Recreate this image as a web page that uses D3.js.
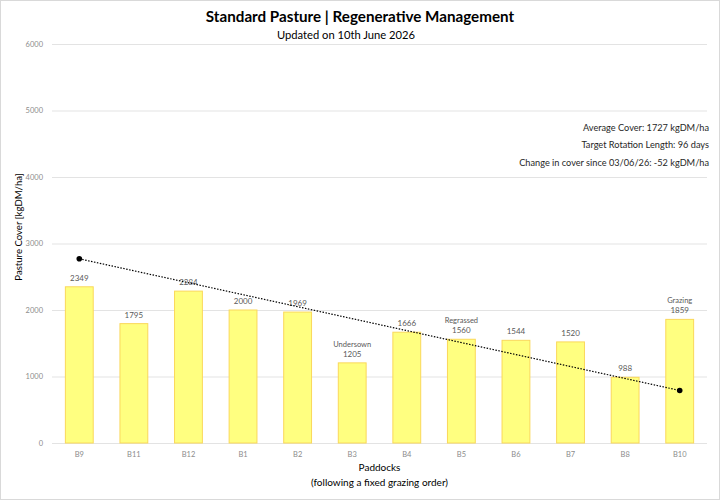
<!DOCTYPE html>
<html>
<head>
<meta charset="utf-8">
<script src="https://cdn.jsdelivr.net/npm/d3@7"></script>
<style>
  body { margin: 0; background: #fff; }
  svg text { font-family: Lato, "Open Sans", sans-serif; }
</style>
</head>
<body>
<div id="chart"></div>
<script>
const paddocks = ["B9", "B11", "B12", "B1", "B2", "B3", "B4", "B5", "B6", "B7", "B8", "B10"];
const cover = [2349, 1795, 2284, 2000, 1969, 1205, 1666, 1560, 1544, 1520, 988, 1859];
const notes = ["", "", "", "", "", "Undersown", "", "Regrassed", "", "", "", "Grazing"];
const trendEnds = [2770, 790];
const yTicks = [0, 1000, 2000, 3000, 4000, 5000, 6000];
const infoLines = [
  "Average Cover: 1727 kgDM/ha",
  "Target Rotation Length: 96 days",
  "Change in cover since 03/06/26: -52 kgDM/ha"
];

const W = 720, H = 500;
const margin = { top: 44, right: 13, bottom: 57, left: 52 };

const svg = d3.select("#chart").append("svg")
  .attr("width", W).attr("height", H);

svg.append("rect")
  .attr("x", 0.5).attr("y", 0.5).attr("width", W - 1).attr("height", H - 1)
  .attr("fill", "#fff").attr("stroke", "#d9d9d9");

const x = d3.scaleBand()
  .domain(paddocks)
  .range([margin.left, W - margin.right])
  .paddingInner(0.49).paddingOuter(0.245);

const y = d3.scaleLinear()
  .domain([0, 6000])
  .range([H - margin.bottom, margin.top]);

// gridlines
svg.append("g")
  .selectAll("line")
  .data(yTicks)
  .enter().append("line")
  .attr("x1", margin.left).attr("x2", W - margin.right)
  .attr("y1", d => y(d) + 0.5).attr("y2", d => y(d) + 0.5)
  .attr("stroke", "#e3e3e3");

// y axis labels
const yAxis = svg.append("g")
  .attr("transform", `translate(${margin.left},0)`)
  .call(d3.axisLeft(y).tickValues(yTicks).tickSize(0).tickPadding(9).tickFormat(d3.format("d")));
yAxis.select(".domain").remove();
yAxis.selectAll("text").attr("fill", "#8c8c8c").attr("font-size", 7.5)
  .style("font-family", "Lato, sans-serif");

// x axis labels
const xAxis = svg.append("g")
  .attr("transform", `translate(0,${y(0)})`)
  .call(d3.axisBottom(x).tickSize(0).tickPadding(9));
xAxis.select(".domain").remove();
xAxis.selectAll("text").attr("fill", "#8c8c8c").attr("font-size", 7.5)
  .style("font-family", "Lato, sans-serif");

// bars
const data = paddocks.map((p, i) => ({ p, v: cover[i], note: notes[i] }));
svg.append("g")
  .selectAll("rect")
  .data(data)
  .enter().append("rect")
  .attr("x", d => x(d.p))
  .attr("y", d => y(d.v))
  .attr("width", x.bandwidth())
  .attr("height", d => y(0) - y(d.v))
  .attr("fill", "#ffff80")
  .attr("stroke", "#fad85a")
  .attr("stroke-width", 1);

// value labels
const labels = svg.append("g");
labels.selectAll("text.val")
  .data(data)
  .enter().append("text")
  .attr("class", "val")
  .attr("x", d => x(d.p) + x.bandwidth() / 2)
  .attr("y", d => y(d.v) - 6)
  .attr("text-anchor", "middle")
  .attr("font-size", 8)
  .attr("fill", "#595959")
  .text(d => d.v);
labels.selectAll("text.note")
  .data(data.filter(d => d.note))
  .enter().append("text")
  .attr("class", "note")
  .attr("x", d => x(d.p) + x.bandwidth() / 2)
  .attr("y", d => y(d.v) - 16)
  .attr("text-anchor", "middle")
  .attr("font-size", 7.5)
  .attr("fill", "#595959")
  .text(d => d.note);

// trend line
const first = paddocks[0], last = paddocks[paddocks.length - 1];
const trend = [
  { p: first, v: trendEnds[0] },
  { p: last, v: trendEnds[1] }
];
svg.append("path")
  .datum(trend)
  .attr("d", d3.line().x(d => x(d.p) + x.bandwidth() / 2).y(d => y(d.v)))
  .attr("stroke", "#000")
  .attr("stroke-width", 1.2)
  .attr("stroke-dasharray", "1.5,1.5")
  .attr("fill", "none");
svg.selectAll("circle.end")
  .data(trend)
  .enter().append("circle")
  .attr("class", "end")
  .attr("cx", d => x(d.p) + x.bandwidth() / 2)
  .attr("cy", d => y(d.v))
  .attr("r", 2.8)
  .attr("fill", "#000");

// info text
svg.append("g")
  .selectAll("text")
  .data(infoLines)
  .enter().append("text")
  .attr("x", 709)
  .attr("y", (d, i) => 131 + i * 17.3)
  .attr("text-anchor", "end")
  .attr("font-size", 9.2)
  .attr("fill", "#262626")
  .text(d => d);

// titles
svg.append("text")
  .attr("x", 360).attr("y", 22)
  .attr("text-anchor", "middle")
  .attr("font-size", 15.2).attr("font-weight", "bold")
  .attr("fill", "#000")
  .text("Standard Pasture | Regenerative Management");
svg.append("text")
  .attr("x", 346).attr("y", 39)
  .attr("text-anchor", "middle")
  .attr("font-size", 11.2)
  .attr("fill", "#000")
  .text("Updated on 10th June 2026");

// axis titles
svg.append("text")
  .attr("transform", "translate(22,227) rotate(-90)")
  .attr("text-anchor", "middle")
  .attr("font-size", 9.6)
  .attr("fill", "#000")
  .text("Pasture Cover [kgDM/ha]");
svg.append("text")
  .attr("x", (margin.left + W - margin.right) / 2).attr("y", 471)
  .attr("text-anchor", "middle")
  .attr("font-size", 10)
  .attr("fill", "#000")
  .text("Paddocks");
svg.append("text")
  .attr("x", (margin.left + W - margin.right) / 2).attr("y", 486)
  .attr("text-anchor", "middle")
  .attr("font-size", 10)
  .attr("fill", "#000")
  .text("(following a fixed grazing order)");
</script>
</body>
</html>
